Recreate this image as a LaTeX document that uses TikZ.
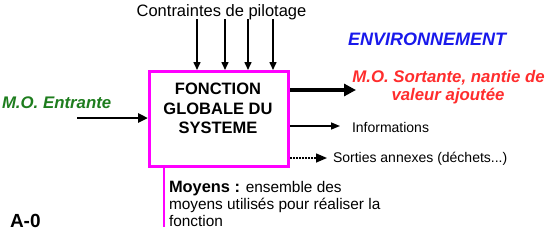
\documentclass[tikz,border=0pt]{standalone}
\usepackage{fontspec}
\setmainfont{Liberation Sans}
\usetikzlibrary{arrows.meta}
\definecolor{mag}{RGB}{255,0,255}
\definecolor{grn}{RGB}{30,125,30}
\definecolor{blu}{RGB}{25,25,235}
\definecolor{rd}{RGB}{255,45,45}
\begin{document}
\begin{tikzpicture}[x=1pt,y=-1pt,
  lbl/.style={inner sep=0pt, outer sep=0pt},
  big/.style={font=\fontsize{16.5}{20}\selectfont},
  bigb/.style={font=\fontsize{16.5}{20}\selectfont\bfseries},
  bigbi/.style={font=\fontsize{16.8}{20}\selectfont\bfseries\itshape},
  midbi/.style={font=\fontsize{16.8}{20}\selectfont\bfseries\itshape},
  small/.style={font=\fontsize{14}{17}\selectfont},
  moy/.style={font=\fontsize{15.4}{17}\selectfont},
  ctrl/.style={line width=1.5pt, -{Triangle[length=8pt,width=7pt]}},
]
\useasboundingbox (0,0) rectangle (549,250);
% box
\node[draw=mag, line width=3pt, minimum width=139pt, minimum height=95pt, anchor=north west] (box) at (148,70) {};
\node[lbl, bigb, anchor=base] (t1) at (218,94) {FONCTION};
\node[lbl, bigb, anchor=base] (t2) at (218,114) {GLOBALE DU};
\node[lbl, bigb, anchor=base] (t3) at (218,133) {SYSTEME};
% controls
\node[lbl, big, anchor=base] (ctl) at (221.5,16) {Contraintes de pilotage};
\coordinate (c1) at (197,19);
\coordinate (c2) at (225,19);
\coordinate (c3) at (248,19);
\coordinate (c4) at (273,19);
\foreach \c in {c1,c2,c3,c4}{\draw[ctrl] (\c) -- (\c |- box.north);}
% input
\node[lbl, bigbi, text=grn, anchor=base west] (inl) at (2,108) {M.O. Entrante};
\coordinate (in) at (77,118);
\draw[line width=2.5pt, -{Triangle[length=10pt,width=9pt]}] (in) -- (in -| box.west);
% outputs
\node[lbl, font=\fontsize{18}{20}\selectfont\bfseries\itshape, text=blu, anchor=base west] (env) at (348,45) {ENVIRONNEMENT};
\node[lbl, midbi, text=rd, anchor=base] (mos1) at (448.5,82) {M.O. Sortante, nantie de};
\node[lbl, midbi, text=rd, anchor=base] (mos2) at (448,100) {valeur ajoutée};
\coordinate (o1) at (356,90);
\draw[line width=4pt, -{Triangle[length=12pt,width=12pt]}] (o1 -| box.east) -- (o1);
\coordinate (o2) at (340,126);
\draw[line width=1.5pt, -{Triangle[length=9pt,width=7pt]}] (o2 -| box.east) -- (o2);
\node[lbl, small, anchor=base west] (info) at (352,132) {Informations};
\coordinate (o3) at (327,158);
\draw[line width=1.5pt, dash pattern=on 2pt off 1pt, -{Triangle[length=11pt,width=9pt]}] (o3 -| box.east) -- (o3);
\node[lbl, small, anchor=base west] (sort) at (333,162) {Sorties annexes (déchets...)};
% mechanism
\coordinate (m) at (164,227);
\draw[mag, line width=2.5pt] (m |- box.south) -- (m);
\node[lbl, moy, anchor=base west] (my1) at (169,192) {{\fontsize{16.4}{17}\selectfont\bfseries Moyens :} ensemble des};
\node[lbl, moy, anchor=base west] (my2) at (169,209) {moyens utilisés pour réaliser la};
\node[lbl, moy, anchor=base west] (my3) at (169,226) {fonction};
% label
\node[lbl, font=\fontsize{19}{22}\selectfont\bfseries, anchor=base west] (a0) at (10,227) {A-0};
\end{tikzpicture}
\end{document}
